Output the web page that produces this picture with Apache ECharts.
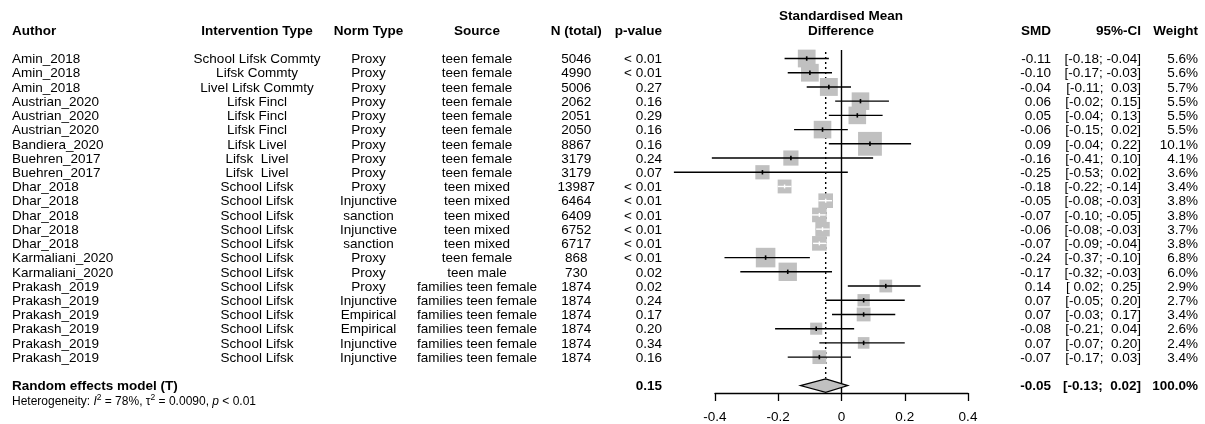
<!DOCTYPE html>
<html>
<head>
<meta charset="utf-8">
<script src="https://cdn.jsdelivr.net/npm/echarts@6/dist/echarts.min.js"></script>
<style>html,body{margin:0;padding:0;background:#fff}#c{width:1205px;height:424px}</style>
</head>
<body>
<div id="c"></div>
<script>
// ---------- DATA ----------
const authors = ['Amin_2018','Amin_2018','Amin_2018','Austrian_2020','Austrian_2020','Austrian_2020','Bandiera_2020','Buehren_2017','Buehren_2017','Dhar_2018','Dhar_2018','Dhar_2018','Dhar_2018','Dhar_2018','Karmaliani_2020','Karmaliani_2020','Prakash_2019','Prakash_2019','Prakash_2019','Prakash_2019','Prakash_2019','Prakash_2019'];
const interventionType = ['School Lifsk Commty','Lifsk Commty','Livel Lifsk Commty','Lifsk Fincl','Lifsk Fincl','Lifsk Fincl','Lifsk Livel','Lifsk  Livel','Lifsk  Livel','School Lifsk','School Lifsk','School Lifsk','School Lifsk','School Lifsk','School Lifsk','School Lifsk','School Lifsk','School Lifsk','School Lifsk','School Lifsk','School Lifsk','School Lifsk'];
const normType = ['Proxy','Proxy','Proxy','Proxy','Proxy','Proxy','Proxy','Proxy','Proxy','Proxy','Injunctive','sanction','Injunctive','sanction','Proxy','Proxy','Proxy','Injunctive','Empirical','Empirical','Injunctive','Injunctive'];
const source = ['teen female','teen female','teen female','teen female','teen female','teen female','teen female','teen female','teen female','teen mixed','teen mixed','teen mixed','teen mixed','teen mixed','teen female','teen male','families teen female','families teen female','families teen female','families teen female','families teen female','families teen female'];
const nTotal = [5046,4990,5006,2062,2051,2050,8867,3179,3179,13987,6464,6409,6752,6717,868,730,1874,1874,1874,1874,1874,1874];
const pValue = ['< 0.01','< 0.01','0.27','0.16','0.29','0.16','0.16','0.24','0.07','< 0.01','< 0.01','< 0.01','< 0.01','< 0.01','< 0.01','0.02','0.02','0.24','0.17','0.20','0.34','0.16'];
const smd = [-0.11,-0.10,-0.04,0.06,0.05,-0.06,0.09,-0.16,-0.25,-0.18,-0.05,-0.07,-0.06,-0.07,-0.24,-0.17,0.14,0.07,0.07,-0.08,0.07,-0.07];
const ciLower = [-0.18,-0.17,-0.11,-0.02,-0.04,-0.15,-0.04,-0.41,-0.53,-0.22,-0.08,-0.10,-0.08,-0.09,-0.37,-0.32,0.02,-0.05,-0.03,-0.21,-0.07,-0.17];
const ciUpper = [-0.04,-0.03,0.03,0.15,0.13,0.02,0.22,0.10,0.02,-0.14,-0.03,-0.05,-0.03,-0.04,-0.10,-0.03,0.25,0.20,0.17,0.04,0.20,0.03];
const weight = [5.6,5.6,5.7,5.5,5.5,5.5,10.1,4.1,3.6,3.4,3.8,3.8,3.7,3.8,6.8,6.0,2.9,2.7,3.4,2.6,2.4,3.4];

const summaryLabel = 'Random effects model (T)';
const summaryP = '0.15';
const summarySmd = -0.05, summaryLower = -0.13, summaryUpper = 0.02, summaryWeight = 100.0;
const heterogeneity = {I2: '78%', tau2: '0.0090', p: '< 0.01'};

const xTicks = [-0.4, -0.2, 0, 0.2, 0.4];
const xTickLabels = ['-0.4', '-0.2', '0', '0.2', '0.4'];

const headers = ['Author','Intervention Type','Norm Type','Source','N (total)','p-value','SMD','95%-CI','Weight'];
const plotTitle = ['Standardised Mean','Difference'];

// ---------- LAYOUT / STYLE ----------
const FONT = '"Liberation Sans", Arial, sans-serif';
const FS = 13.5;
const cols = [
  {x: 12, align: 'left'},
  {x: 257, align: 'center'},
  {x: 368.5, align: 'center'},
  {x: 477, align: 'center'},
  {x: 576.3, align: 'center'},
  {x: 662, align: 'right'},
  {x: 1051, align: 'right'},
  {x: 1141, align: 'right'},
  {x: 1198, align: 'right'}
];
const nRows = authors.length;
const summaryRow = nRows + 1;
const GREY = '#c0c0c0';

const fmt2 = v => v.toFixed(2);
const pad = v => (v >= 0 ? ' ' : '') + v.toFixed(2);
const ciText = (l, u) => '[' + pad(l) + '; ' + pad(u) + ']';

const rowTexts = authors.map((a, i) => [
  a, interventionType[i], normType[i], source[i], String(nTotal[i]), pValue[i],
  fmt2(smd[i]), ciText(ciLower[i], ciUpper[i]), weight[i].toFixed(1) + '%'
]);
const summaryTexts = [summaryLabel, '', '', '', '', summaryP, fmt2(summarySmd), ciText(summaryLower, summaryUpper), summaryWeight.toFixed(1) + '%'];

const forestData = smd.map((v, i) => [v, ciLower[i], ciUpper[i], weight[i], i]);
const tableData = rowTexts.map((t, i) => ({value: [0, i], texts: t, bold: false}));
tableData.push({value: [0, summaryRow], texts: summaryTexts, bold: true});

const chart = echarts.init(document.getElementById('c'), null, {renderer: 'canvas'});

const option = {
  animation: false,
  backgroundColor: '#fff',
  grid: {left: 715, width: 253, top: 50, height: 343},
  xAxis: {
    type: 'value', min: xTicks[0], max: xTicks[xTicks.length - 1], interval: 0.2,
    splitLine: {show: false},
    axisLine: {show: true, onZero: false, lineStyle: {color: '#000', width: 1.3}},
    axisTick: {show: true, length: 8, lineStyle: {color: '#000', width: 1.3}},
    axisLabel: {
      color: '#000', fontSize: FS, fontFamily: FONT, margin: 17,
      showMinLabel: true, showMaxLabel: true,
      formatter: v => {
        const k = xTicks.findIndex(t => Math.abs(t - v) < 1e-9);
        return k >= 0 ? xTickLabels[k] : '';
      }
    }
  },
  yAxis: {type: 'value', inverse: true, min: -0.598, max: 23.523, show: false},
  series: [
    {
      type: 'custom', silent: true, clip: false,
      data: [[0, 0]],
      renderItem: function (params, api) {
        const top = api.coord([0, -0.598])[1];
        const bot = api.coord([0, 23.523])[1];
        const x0 = api.coord([0, 0])[0];
        const xs = api.coord([summarySmd, 0])[0];
        const ySum = api.coord([0, summaryRow])[1];
        return {type: 'group', children: [
          {type: 'line', shape: {x1: x0, y1: top, x2: x0, y2: bot}, style: {stroke: '#000', lineWidth: 1.4}},
          {type: 'line', shape: {x1: xs, y1: top + 2, x2: xs, y2: ySum - 7}, style: {stroke: '#000', lineWidth: 1.4, lineDash: [2, 3]}}
        ]};
      },
      z: 1
    },
    {
      type: 'custom', silent: true, clip: false,
      data: forestData,
      renderItem: function (params, api) {
        const est = api.value(0), lo = api.value(1), hi = api.value(2), w = api.value(3), row = api.value(4);
        const c = api.coord([est, row]);
        const side = 7.5 * Math.sqrt(w);
        const xl = api.coord([lo, row])[0], xu = api.coord([hi, row])[0];
        const narrow = (hi - lo) < 0.1;
        const children = [
          {type: 'rect', shape: {x: c[0] - side / 2, y: c[1] - side / 2, width: side, height: side}, style: {fill: GREY}}
        ];
        if (narrow) {
          children.push({type: 'line', shape: {x1: Math.max(xl, c[0] - side / 2), y1: c[1], x2: Math.min(xu, c[0] + side / 2), y2: c[1]}, style: {stroke: '#fff', lineWidth: 1.4}});
          children.push({type: 'line', shape: {x1: c[0], y1: c[1] - 2, x2: c[0], y2: c[1] + 2}, style: {stroke: '#fff', lineWidth: 1.4}});
        } else {
          children.push({type: 'line', shape: {x1: xl, y1: c[1], x2: xu, y2: c[1]}, style: {stroke: '#000', lineWidth: 1.4}});
          children.push({type: 'line', shape: {x1: c[0], y1: c[1] - 2.2, x2: c[0], y2: c[1] + 2.2}, style: {stroke: '#000', lineWidth: 1.6}});
        }
        return {type: 'group', children};
      },
      z: 2
    },
    {
      type: 'custom', silent: true, clip: false,
      data: [[summarySmd, summaryLower, summaryUpper, summaryRow]],
      renderItem: function (params, api) {
        const row = api.value(3);
        const c = api.coord([api.value(0), row]);
        const xl = api.coord([api.value(1), row])[0], xu = api.coord([api.value(2), row])[0];
        const h = 6.7;
        return {type: 'polygon', shape: {points: [[xl, c[1]], [c[0], c[1] - h], [xu, c[1]], [c[0], c[1] + h]]},
          style: {fill: GREY, stroke: '#000', lineWidth: 1.2}};
      },
      z: 3
    },
    {
      type: 'custom', silent: true, clip: false,
      data: tableData,
      renderItem: function (params, api) {
        const item = tableData[params.dataIndex];
        const y = api.coord([0, api.value(1)])[1] + 1;
        return {type: 'group', children: item.texts.map((t, k) => ({
          type: 'text',
          x: cols[k].x, y: y,
          style: {text: t, fill: '#000', font: (item.bold ? 'bold ' : '') + FS + 'px ' + FONT,
            textAlign: cols[k].align, textVerticalAlign: 'middle'}
        }))};
      },
      z: 4
    }
  ],
  graphic: [
    ...headers.map((h, k) => ({
      type: 'text', x: cols[k].x, y: 31,
      style: {text: h, fill: '#000', font: 'bold ' + FS + 'px ' + FONT, textAlign: cols[k].align, textVerticalAlign: 'middle'}
    })),
    ...plotTitle.map((t, k) => ({
      type: 'text', x: 841, y: 16.7 + k * 14.3,
      style: {text: t, fill: '#000', font: 'bold ' + FS + 'px ' + FONT, textAlign: 'center', textVerticalAlign: 'middle'}
    })),
    {
      type: 'text', left: 12, top: 393,
      style: {
        text: '{n|Heterogeneity: }{i|I}{s|2}{n| = ' + heterogeneity.I2 + ', τ}{s|2}{n| = ' + heterogeneity.tau2 + ', }{i|p}{n| ' + heterogeneity.p + '}',
        fill: '#000',
        rich: {
          n: {fontSize: 12, fontFamily: FONT, lineHeight: 15, verticalAlign: 'bottom'},
          i: {fontSize: 12, fontFamily: FONT, fontStyle: 'italic', lineHeight: 15, verticalAlign: 'bottom'},
          s: {fontSize: 8.5, fontFamily: FONT, lineHeight: 9, verticalAlign: 'top'}
        }
      }
    }
  ]
};
chart.setOption(option);
</script>
</body>
</html>
